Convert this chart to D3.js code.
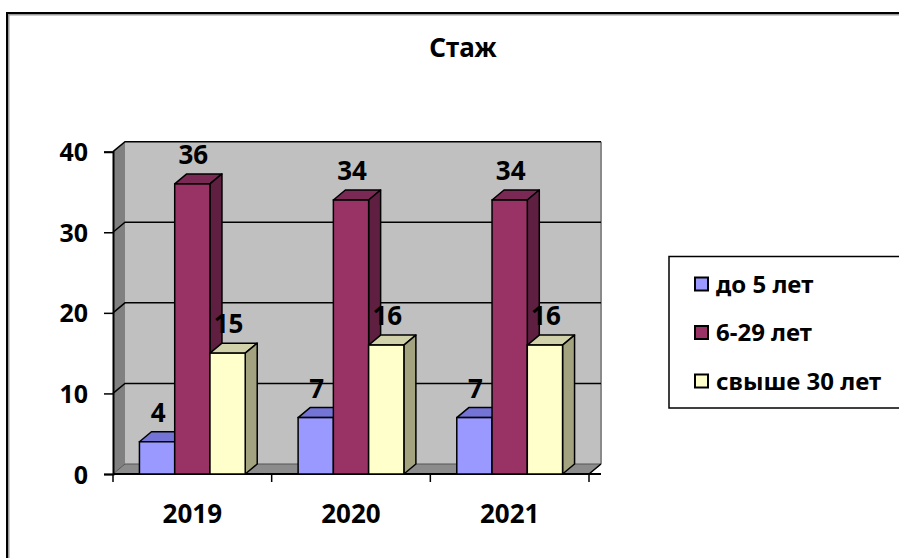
<!DOCTYPE html>
<html>
<head>
<meta charset="utf-8">
<script src="https://cdn.jsdelivr.net/npm/d3@7"></script>
<style>
  html, body { margin: 0; padding: 0; background: #fff; overflow: hidden; }
  svg { display: block; }
  svg text { font-family: "Noto Sans", "DejaVu Sans", sans-serif; font-weight: bold; fill: #000; }
</style>
</head>
<body>
<div id="chart"></div>
<script>
var categories = ["2019", "2020", "2021"];
var seriesNames = ["до 5 лет", "6-29 лет", "свыше 30 лет"];
var upTo5 = [4, 7, 7];
var from6to29 = [36, 34, 34];
var over30 = [15, 16, 16];
var yTicks = [0, 10, 20, 30, 40];

var seriesValues = [upTo5, from6to29, over30];
var frontColors = ["#9999ff", "#993366", "#ffffcc"];
var topColors = ["#7474d6", "#7a2955", "#d2d2aa"];
var sideColors = ["#5c5cad", "#5e1f40", "#a3a37f"];

var width = 899, height = 558;
var depthX = 12, depthY = -10;

var svg = d3.select("#chart").append("svg")
    .attr("width", width)
    .attr("height", height);

// outer chart frame (runs past the right and bottom edges)
svg.append("rect")
    .attr("x", 8.5).attr("y", 14.5)
    .attr("width", 920).attr("height", 580)
    .attr("fill", "none").attr("stroke", "#999").attr("stroke-width", 2);
svg.append("rect")
    .attr("x", 7).attr("y", 13)
    .attr("width", 920).attr("height", 580)
    .attr("fill", "none").attr("stroke", "#000").attr("stroke-width", 2);

var x0 = d3.scaleBand()
    .domain(categories)
    .range([113, 589])
    .paddingInner(0)
    .paddingOuter(0);

var x1 = d3.scaleBand()
    .domain(seriesNames)
    .range([0, x0.bandwidth()])
    .paddingInner(0)
    .paddingOuter(0.75);

var y = d3.scaleLinear()
    .domain([0, 40])
    .range([474, 151.7]);

var left = x0.range()[0], right = x0.range()[1];
var y0 = y(0), yTop = y(40);

// back wall
svg.append("rect")
    .attr("x", left + depthX).attr("y", yTop + depthY)
    .attr("width", right - left).attr("height", y0 - yTop)
    .attr("fill", "#c0c0c0");
svg.append("line")
    .attr("x1", right + depthX).attr("x2", right + depthX)
    .attr("y1", yTop + depthY).attr("y2", y0 + depthY)
    .attr("stroke", "#8a8a8a").attr("stroke-width", 2);

// side wall
svg.append("polygon")
    .attr("points", [[left, y0], [left, yTop], [left + depthX, yTop + depthY], [left + depthX, y0 + depthY]].join(" "))
    .attr("fill", "#808080");

// floor
svg.append("polygon")
    .attr("points", [[left, y0], [right, y0], [right + depthX, y0 + depthY], [left + depthX, y0 + depthY]].join(" "))
    .attr("fill", "#8c8c8c")
    .attr("stroke", "#555").attr("stroke-width", 1);

// gridlines across the side and back walls
svg.append("g").selectAll("path")
    .data(yTicks.filter(function (d) { return d > 0; }))
    .enter().append("path")
    .attr("d", function (d) {
        return "M" + left + "," + y(d) + "L" + (left + depthX) + "," + (y(d) + depthY) + "L" + (right + depthX) + "," + (y(d) + depthY);
    })
    .attr("fill", "none")
    .attr("stroke", "#000")
    .attr("stroke-width", 1.5);

// y axis
var yAxis = svg.append("g")
    .attr("transform", "translate(" + left + ",0)")
    .call(d3.axisLeft(y).tickValues(yTicks).tickSize(9).tickPadding(16));
yAxis.select(".domain").attr("stroke", "#000").attr("stroke-width", 2);
yAxis.selectAll(".tick line").attr("stroke", "#000").attr("stroke-width", 1.5);
yAxis.selectAll("text").style("font-size", "25px").attr("dy", "0.36em");

// category axis
svg.append("line")
    .attr("x1", left).attr("x2", right + depthX)
    .attr("y1", y0).attr("y2", y0)
    .attr("stroke", "#000").attr("stroke-width", 2);
svg.append("line")
    .attr("x1", right).attr("x2", right + depthX)
    .attr("y1", y0).attr("y2", y0 + depthY)
    .attr("stroke", "#000").attr("stroke-width", 1.5);
svg.append("g").selectAll("line")
    .data([left].concat(categories.map(function (c) { return x0(c) + x0.bandwidth(); })))
    .enter().append("line")
    .attr("x1", function (d) { return d; }).attr("x2", function (d) { return d; })
    .attr("y1", y0).attr("y2", y0 + 8)
    .attr("stroke", "#000").attr("stroke-width", 1.5);

var xAxis = svg.append("g")
    .attr("transform", "translate(0," + y0 + ")")
    .call(d3.axisBottom(x0).tickSize(0).tickPadding(31));
xAxis.select(".domain").remove();
xAxis.selectAll("text").style("font-size", "26px");

// 3D bars
var barData = [];
categories.forEach(function (c, ci) {
    seriesNames.forEach(function (s, si) {
        barData.push({ category: c, series: s, si: si, value: seriesValues[si][ci] });
    });
});

var bars = svg.append("g").selectAll("g")
    .data(barData)
    .enter().append("g");

bars.append("polygon")
    .attr("points", function (d) {
        var xl = x0(d.category) + x1(d.series), xr = xl + x1.bandwidth(), yt = y(d.value);
        return [[xl, yt], [xl + depthX, yt + depthY], [xr + depthX, yt + depthY], [xr, yt]].join(" ");
    })
    .attr("fill", function (d) { return topColors[d.si]; })
    .attr("stroke", "#000").attr("stroke-width", 1.5).attr("stroke-linejoin", "round");

bars.append("polygon")
    .attr("points", function (d) {
        var xr = x0(d.category) + x1(d.series) + x1.bandwidth(), yt = y(d.value);
        return [[xr, yt], [xr + depthX, yt + depthY], [xr + depthX, y0 + depthY], [xr, y0]].join(" ");
    })
    .attr("fill", function (d) { return sideColors[d.si]; })
    .attr("stroke", "#000").attr("stroke-width", 1.5).attr("stroke-linejoin", "round");

bars.append("rect")
    .attr("x", function (d) { return x0(d.category) + x1(d.series); })
    .attr("y", function (d) { return y(d.value); })
    .attr("width", x1.bandwidth())
    .attr("height", function (d) { return y0 - y(d.value); })
    .attr("fill", function (d) { return frontColors[d.si]; })
    .attr("stroke", "#000").attr("stroke-width", 1.5);

// value labels
svg.append("g").selectAll("text")
    .data(barData)
    .enter().append("text")
    .attr("x", function (d) { return x0(d.category) + x1(d.series) + x1.bandwidth() / 2 + 1; })
    .attr("y", function (d) { return y(d.value) - 20; })
    .attr("text-anchor", "middle")
    .style("font-size", "26px")
    .text(function (d) { return d.value; });

// title
svg.append("text")
    .attr("x", 463).attr("y", 57)
    .attr("text-anchor", "middle")
    .style("font-size", "26px")
    .text("Стаж");

// legend
var legend = svg.append("g");
legend.append("rect")
    .attr("x", 669).attr("y", 256.5)
    .attr("width", 260).attr("height", 151.5)
    .attr("fill", "#fff").attr("stroke", "#000").attr("stroke-width", 1.5);

var legendItems = legend.selectAll("g.item")
    .data(seriesNames)
    .enter().append("g")
    .attr("class", "item")
    .attr("transform", function (d, i) { return "translate(695," + (284 + i * 48.5) + ")"; });

legendItems.append("rect")
    .attr("x", 0).attr("y", -6.5)
    .attr("width", 13).attr("height", 13)
    .attr("fill", function (d, i) { return frontColors[i]; })
    .attr("stroke", "#000").attr("stroke-width", 2);

legendItems.append("text")
    .attr("x", 21).attr("y", 0)
    .attr("dy", "0.36em")
    .style("font-size", "24px")
    .text(function (d) { return d; });
</script>
</body>
</html>
